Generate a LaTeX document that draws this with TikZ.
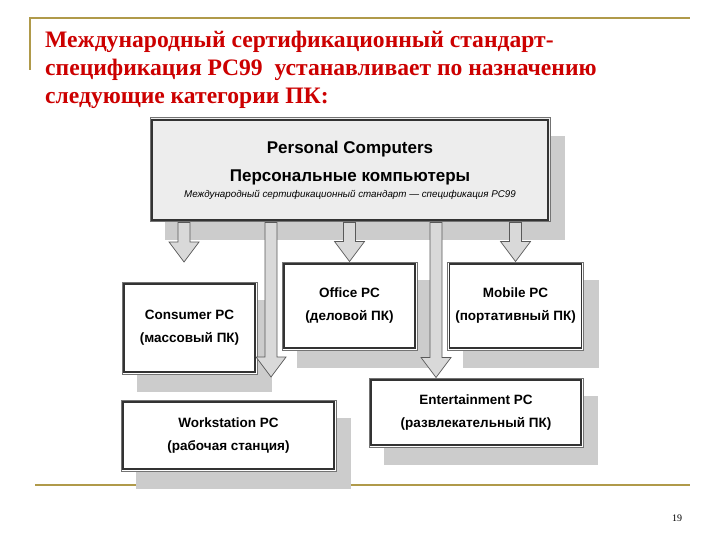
\documentclass[tikz,border=0pt]{standalone}
\usepackage{fontspec}
\setmainfont{Liberation Sans}
\newfontfamily\titlefont{Liberation Serif}
\usetikzlibrary{calc,shadows}

\definecolor{titlered}{HTML}{CC0000}
\definecolor{framegold}{HTML}{B09A4A}

% hollow block arrow: from the bottom of #1 down to #2
\newcommand{\blockarrow}[2]{%
	\filldraw[barrow] let \p1=(#1), \p2=(#2) in
		(\x2-6pt,\y1) -- (\x2-6pt,\y2+20pt) -- (\x2-15pt,\y2+20pt) -- (\x2,\y2)
		-- (\x2+15pt,\y2+20pt) -- (\x2+6pt,\y2+20pt) -- (\x2+6pt,\y1) -- cycle;}

\begin{document}
\begin{tikzpicture}[x=1pt,y=-1pt,
	pcbox/.style={draw=black!55,line width=1pt,fill=white,align=center,inner sep=0pt,
		font=\fontsize{13.5}{23}\selectfont\bfseries,
		drop shadow={shadow xshift=15pt,shadow yshift=-18pt,fill=black!20,opacity=1}},
	innerframe/.style={draw=black!80,line width=1.3pt},
	barrow/.style={draw=black!65,fill=black!15,line width=0.7pt},
	titletext/.style={anchor=base west,inner sep=0pt,text=titlered,
		font=\titlefont\fontsize{23.6}{28}\selectfont\bfseries},
	goldline/.style={draw=framegold,line width=1.8pt}]

	\fill[white] (0,0) rectangle (720,540);
	\useasboundingbox (0,0) rectangle (720,540);

	% slide frame
	\draw[goldline] (30,70) -- (30,18) -- (690,18);
	\draw[goldline] (35,485) -- (690,485);

	\node[titletext] (title_1) at (45,48)  {Международный сертификационный стандарт-};
	\node[titletext] (title_2) at (45,76)  {спецификация PC99~ устанавливает по назначению};
	\node[titletext] (title_3) at (45,104) {следующие категории ПК:};

	\node[pcbox,fill=black!7,minimum width=400pt,minimum height=104pt,
		font=\fontsize{17}{28}\selectfont\bfseries] (pc) at (350,170)
		{Personal Computers\\Персональные компьютеры\\[-12pt]
		{\fontsize{9.8}{11}\selectfont\mdseries\itshape Международный сертификационный стандарт — спецификация PC99}};

	\node[pcbox,minimum width=135pt,minimum height=92pt] (consumer) at (189.5,328) {Consumer PC\\(массовый ПК)};
	\node[pcbox,minimum width=135pt,minimum height=88pt] (office)   at (349.5,306) {Office PC\\(деловой ПК)};
	\node[pcbox,minimum width=136pt,minimum height=88pt] (mobile)   at (515.5,306) {Mobile PC\\(портативный ПК)};
	\node[pcbox,minimum width=215pt,minimum height=71pt] (workst)   at (228.5,435.5) {Workstation PC\\(рабочая станция)};
	\node[pcbox,minimum width=214pt,minimum height=69pt] (entert)   at (476,412.5) {Entertainment PC\\(развлекательный ПК)};

	% double border
	\foreach \b in {pc,consumer,office,mobile,workst,entert}
		\draw[innerframe] ([shift={(2.6pt,2.6pt)}]\b.south west) rectangle ([shift={(-2.6pt,-2.6pt)}]\b.north east);

	\coordinate (to_consumer) at (184,262);
	\coordinate (to_workst)   at (271,377);

	\blockarrow{pc.south}{to_consumer}
	\blockarrow{pc.south}{to_workst}
	\blockarrow{pc.south}{office.north}
	\blockarrow{pc.south}{entert.north -| 436,0}
	\blockarrow{pc.south}{mobile.north}

	\node[font=\titlefont\fontsize{10}{12}\selectfont] (page) at (677,518) {19};
\end{tikzpicture}
\end{document}
